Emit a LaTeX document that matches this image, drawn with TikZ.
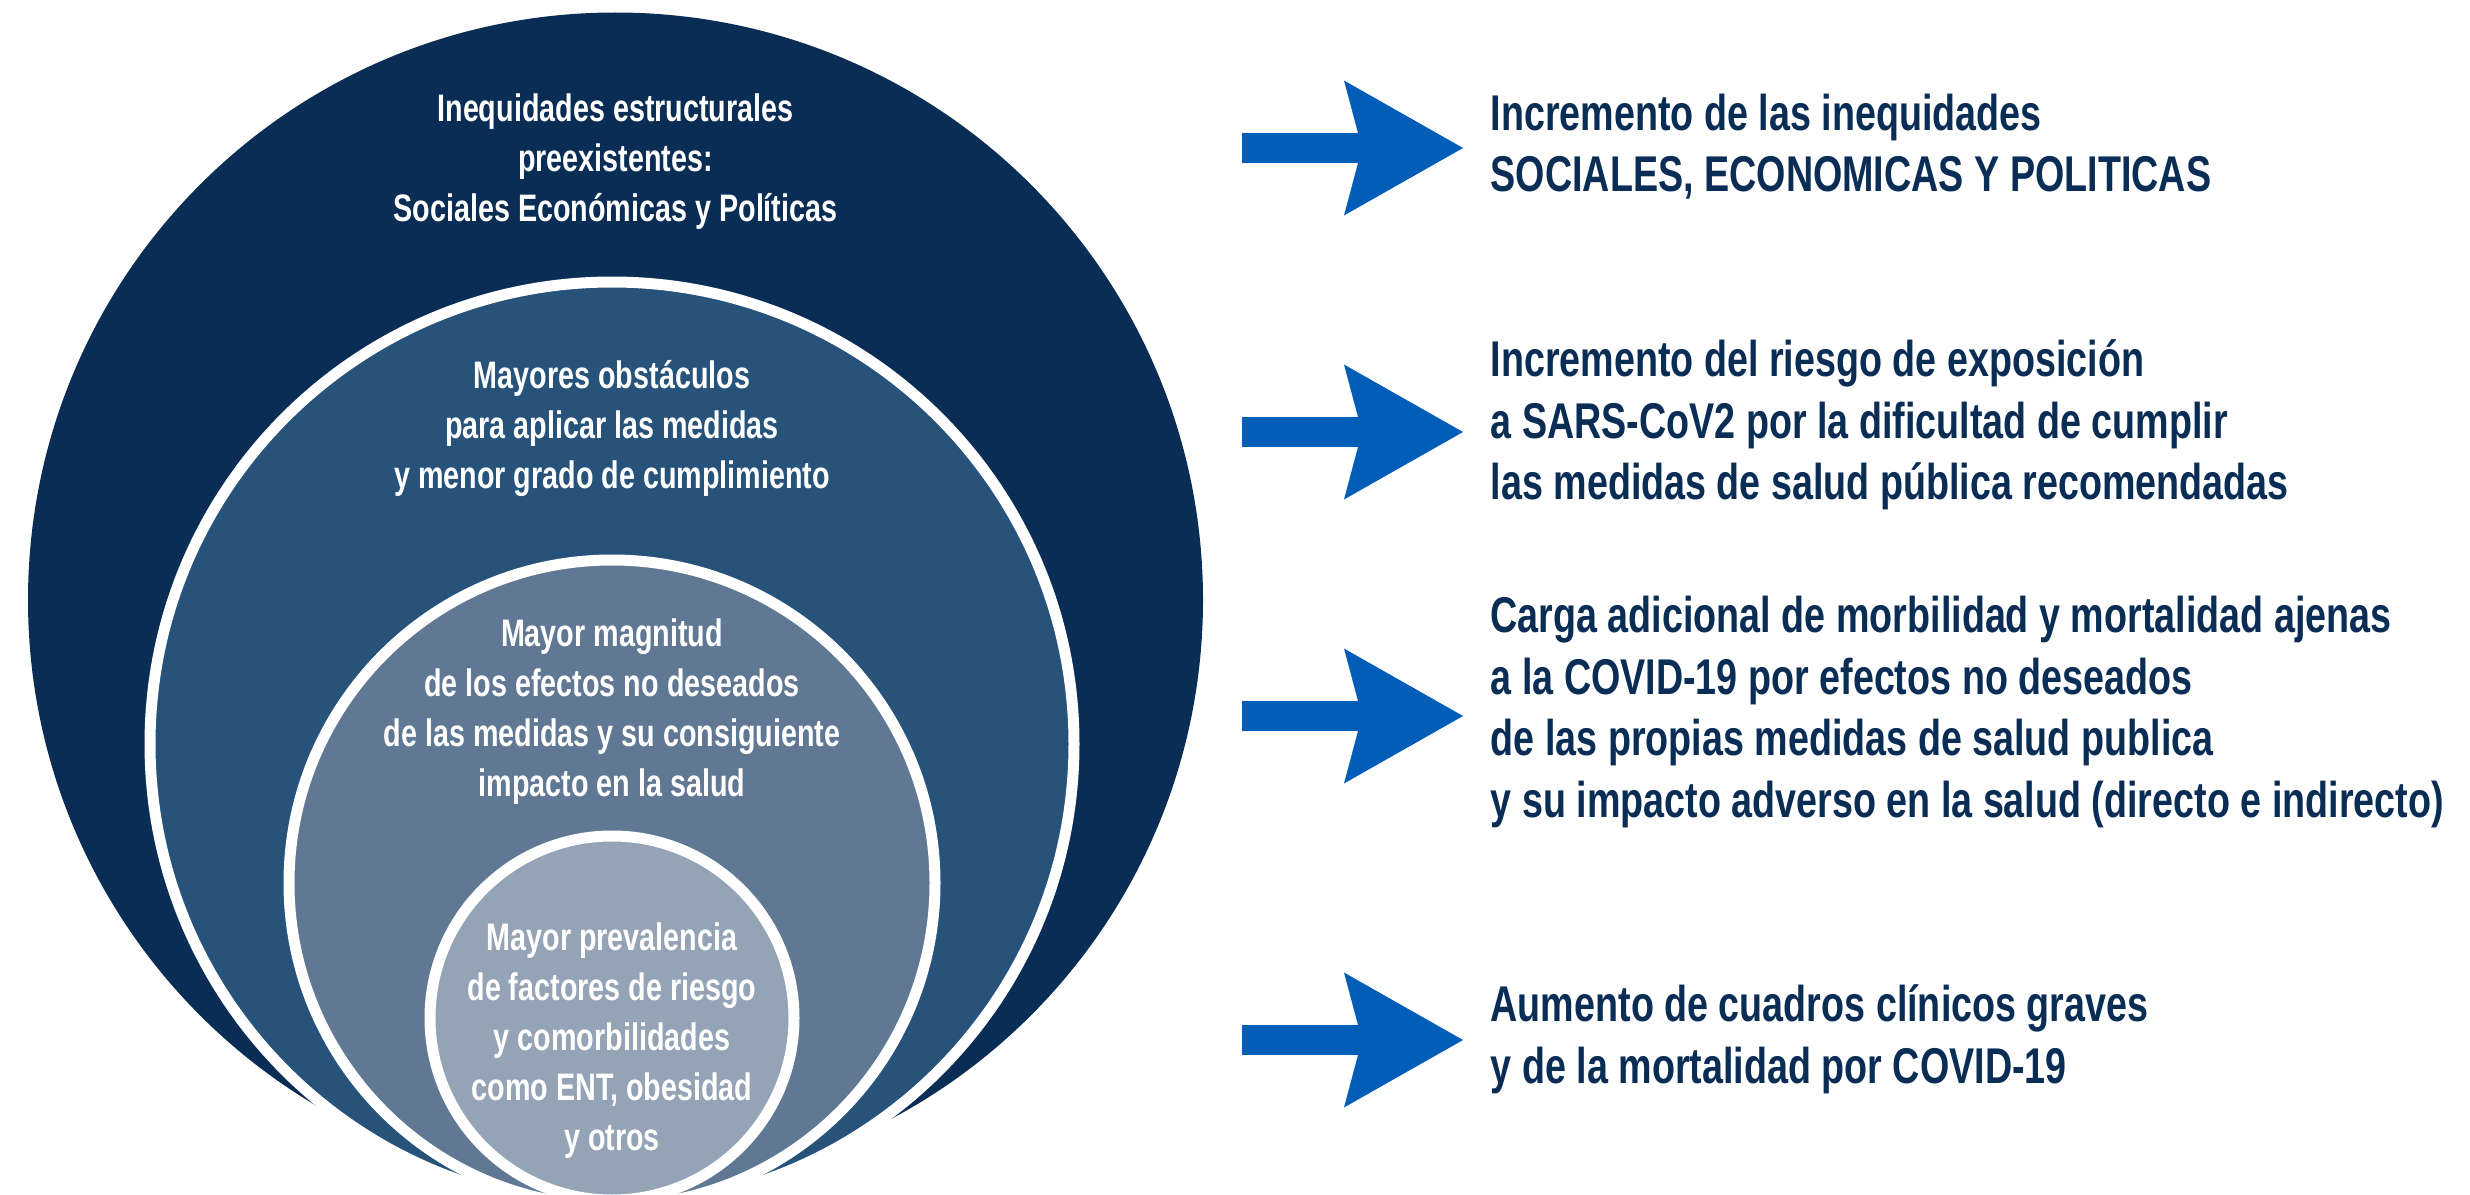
\documentclass[tikz,border=0pt]{standalone}
\usepackage{fontspec}
\setmainfont{Liberation Sans}[FakeStretch=0.75]
\usetikzlibrary{arrows.meta, positioning}
\definecolor{capaUno}{HTML}{0A2D55}
\definecolor{capaDos}{HTML}{27527A}
\definecolor{capaTres}{HTML}{607894}
\definecolor{capaCuatro}{HTML}{94A3B5}
\definecolor{azulFlecha}{HTML}{005EB8}
\definecolor{textoOscuro}{HTML}{0A2D55}

\begin{document}
\begin{tikzpicture}[
        capa/.style={circle, inner sep=0pt, outer sep=0pt, draw=white, line width=1.1mm},
        tc/.style={text=white, align=center, inner sep=0pt, font=\fontsize{10.9}{14.2}\selectfont\bfseries},
        tr/.style={text=textoOscuro, align=left, inner sep=0pt, anchor=north west,
            font=\fontsize{14.3}{17.5}\selectfont\bfseries},
        flecha/.style={line width=3mm, azulFlecha, shorten >=2.7mm,
            -{Stealth[length=11.9mm, width=13.5mm, inset=1.8mm, line width=0pt]}}
    ]
        \useasboundingbox (0,0) rectangle (24.70,-11.95);
        \clip (0,0) rectangle (24.70,-11.95);
        \node[capa, draw=none, fill=capaUno, minimum size=11.75cm] (c1) at (6.155,-6.00) {};
        \node[capa, fill=capaDos, minimum size=9.24cm] (c2) at (6.12,-7.44) {};
        \node[capa, fill=capaTres, minimum size=6.46cm] (c3) at (6.12,-8.83) {};
        \node[capa, fill=capaCuatro, minimum size=3.64cm] (c4) at (6.12,-10.18) {};
        \node[tc, below=8.1mm of c1.north] (t1) {Inequidades estructurales\\preexistentes:\\Sociales Económicas y Políticas};
        \node[tc, below=7.75mm of c2.north] (t2) {Mayores obstáculos\\para aplicar las medidas\\y menor grado de cumplimiento};
        \node[tc, below=5.85mm of c3.north] (t3) {Mayor magnitud\\de los efectos no deseados\\de las medidas y su consiguiente\\impacto en la salud};
        \node[tc, below=8.65mm of c4.north] (t4) {Mayor prevalencia\\de factores de riesgo\\y comorbilidades\\como ENT, obesidad\\y otros};
        \node[tr] (r1) at (14.90,-0.93) {Incremento de las inequidades\\SOCIALES, ECONOMICAS Y POLITICAS};
        \node[tr] (r2) at (14.90,-3.39) {Incremento del riesgo de exposición\\a SARS-CoV2 por la dificultad de cumplir\\las medidas de salud pública recomendadas};
        \node[tr] (r3) at (14.90,-5.955) {Carga adicional de morbilidad y mortalidad ajenas\\a la COVID-19 por efectos no deseados\\de las propias medidas de salud publica\\y su impacto adverso en la salud (directo e indirecto)};
        \node[tr] (r4) at (14.90,-9.84) {Aumento de cuadros clínicos graves\\y de la mortalidad por COVID-19};
        \coordinate (a1) at (12.42,-1.48);
        \coordinate (a2) at (12.42,-4.32);
        \coordinate (a3) at (12.42,-7.16);
        \coordinate (a4) at (12.42,-10.40);
        \draw[flecha] (a1) -- (a1 -| r1.west);
        \draw[flecha] (a2) -- (a2 -| r2.west);
        \draw[flecha] (a3) -- (a3 -| r3.west);
        \draw[flecha] (a4) -- (a4 -| r4.west);
    \end{tikzpicture}
\end{document}
